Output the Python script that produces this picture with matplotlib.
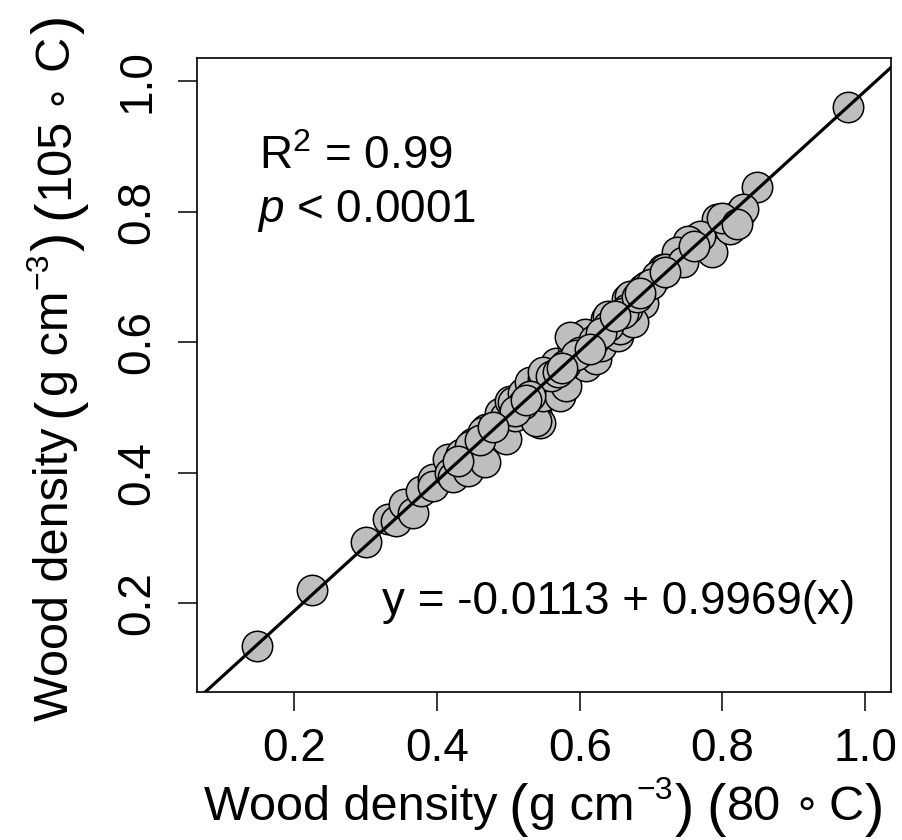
import numpy as np
import matplotlib
matplotlib.use("Agg")
import matplotlib.pyplot as plt

plt.rcParams['font.family'] = ['Liberation Sans', 'DejaVu Sans']
plt.rcParams['mathtext.fontset'] = 'custom'
plt.rcParams['mathtext.rm'] = 'Liberation Sans'
plt.rcParams['mathtext.it'] = 'Liberation Sans:italic'
plt.rcParams['mathtext.bf'] = 'Liberation Sans:bold'

# wood density at 80 C (x) and 105 C (y), g cm-3
wd80 = [0.148, 0.225, 0.300, 0.331, 0.343, 0.354, 0.366, 0.378, 0.394, 0.394,
        0.415, 0.418, 0.422, 0.434, 0.436, 0.443, 0.450, 0.446, 0.467, 0.469,
        0.464, 0.488, 0.495, 0.497, 0.502, 0.509, 0.506, 0.520, 0.539, 0.544,
        0.539, 0.530, 0.548, 0.548, 0.553, 0.567, 0.572, 0.581, 0.548, 0.591,
        0.591, 0.609, 0.623, 0.605, 0.630, 0.637, 0.654, 0.666, 0.689, 0.717,
        0.738, 0.754, 0.785, 0.792, 0.825, 0.811, 0.848, 0.829, 0.768, 0.752,
        0.736, 0.719, 0.745, 0.708, 0.694, 0.670, 0.689, 0.640, 0.656, 0.675,
        0.607, 0.586, 0.666, 0.976, 0.520, 0.560, 0.600, 0.620, 0.640, 0.660,
        0.580, 0.700, 0.720, 0.460, 0.430, 0.510, 0.530, 0.570, 0.630, 0.680,
        0.760, 0.800, 0.820, 0.595, 0.615, 0.650, 0.685, 0.478, 0.525, 0.575]
wd105 = [0.135, 0.221, 0.294, 0.329, 0.326, 0.352, 0.339, 0.372, 0.390, 0.380,
         0.421, 0.400, 0.393, 0.429, 0.421, 0.403, 0.446, 0.441, 0.416, 0.467,
         0.462, 0.492, 0.485, 0.452, 0.510, 0.487, 0.508, 0.523, 0.492, 0.477,
         0.480, 0.539, 0.544, 0.518, 0.539, 0.569, 0.518, 0.533, 0.554, 0.600,
         0.595, 0.564, 0.574, 0.605, 0.595, 0.636, 0.610, 0.666, 0.682, 0.712,
         0.738, 0.748, 0.738, 0.789, 0.799, 0.774, 0.838, 0.804, 0.763, 0.756,
         0.738, 0.712, 0.723, 0.702, 0.687, 0.671, 0.661, 0.641, 0.620, 0.631,
         0.613, 0.608, 0.651, 0.961, 0.505, 0.548, 0.585, 0.603, 0.625, 0.645,
         0.565, 0.690, 0.708, 0.450, 0.418, 0.495, 0.518, 0.555, 0.615, 0.670,
         0.748, 0.790, 0.782, 0.580, 0.590, 0.640, 0.675, 0.470, 0.512, 0.560]

intercept = -0.0113
slope = 0.9969
ticks = [0.2, 0.4, 0.6, 0.8, 1.0]
tick_labels = ['0.2', '0.4', '0.6', '0.8', '1.0']

W, H = 903, 840
fig = plt.figure(figsize=(W / 100, H / 100), dpi=100)
ax = fig.add_axes([197 / W, 1 - 692 / H, 694 / W, 634 / H])

ax.scatter(wd80, wd105, s=480, c='#bebebe', edgecolors='black', linewidths=1.1, zorder=2)
ax.axline((0, intercept), slope=slope, color='black', lw=2.3, zorder=3)

ax.set_xlim(0.064, 1.036)
ax.set_ylim(0.064, 1.036)
ax.set_xticks(ticks)
ax.set_xticklabels(tick_labels)
ax.set_yticks(ticks)
ax.set_yticklabels(tick_labels, rotation=90, va='center')
ax.tick_params(direction='out', length=14, width=1.1, labelsize=33)
ax.tick_params(axis='x', pad=11)
ax.tick_params(axis='y', pad=13)
for sp in ax.spines.values():
    sp.set_linewidth(1.2)

ax.text(0.151, 0.866, r'R$^2$ = 0.99', fontsize=33, va='baseline')
ax.text(0.148, 0.784, r'$p$ < 0.0001', fontsize=33, va='baseline')
ax.text(0.3235, 0.183, 'y = -0.0113 + 0.9969(x)', fontsize=33, va='baseline')


# axis titles built piece by piece so the brackets can be taller than the text
def label_pieces(temp):
    return [('Wood density', 35, 0, 11, None),
            ('(', 42, -5, 1, None),
            ('g cm', 35, 0, 2, None),
            ('\u22123', 23, 21, 1, None),
            (')', 42, -5, 13, None),
            ('(', 42, -5, 1, None),
            (temp, 35, 0, 12, None),
            ('\u2218', 30, 3, 9, 'DejaVu Sans'),
            ('C', 35, 0, 1, None),
            (')', 42, -5, 0, None)]


def draw_label(pieces, center, base, vertical=False):
    r = fig.canvas.get_renderer()
    widths = []
    for s, size, dy, gap, fam in pieces:
        t = fig.text(0, 0, s, fontsize=size, family=fam or 'Liberation Sans')
        widths.append(t.get_window_extent(r).width)
        t.remove()
    total = sum(widths) + sum(p[3] for p in pieces)
    pos = center - total / 2
    for (s, size, dy, gap, fam), w in zip(pieces, widths):
        if vertical:
            xy = ((base - dy) / W, pos / H)
            rot = 90
        else:
            xy = (pos / W, (base + dy) / H)
            rot = 0
        fig.text(xy[0], xy[1], s, fontsize=size, family=fam or 'Liberation Sans',
                 rotation=rot, rotation_mode='anchor', ha='left', va='baseline')
        pos += w + gap


draw_label(label_pieces('80'), (197 + 891) / 2, H - 820)
draw_label(label_pieces('105'), H - 368, 68, vertical=True)

fig.savefig('out.png', dpi=100)
